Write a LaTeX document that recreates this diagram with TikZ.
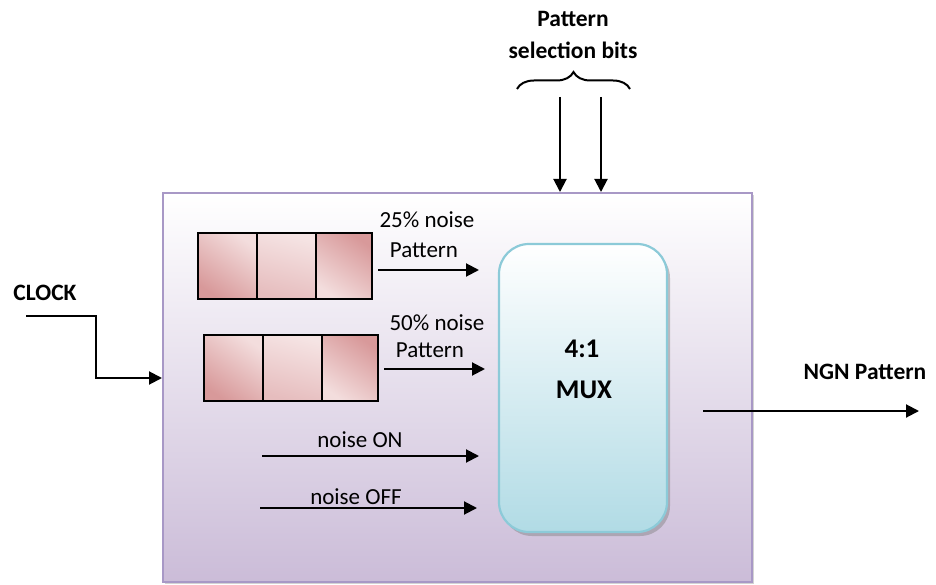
\documentclass[tikz,border=0pt]{standalone}
\usepackage{fontspec}
\setmainfont{Carlito}
\usetikzlibrary{arrows.meta,shadows,decorations.pathreplacing}

\definecolor{lavtop}{HTML}{FFFFFF}
\definecolor{lavbot}{HTML}{CBBCD8}
\definecolor{lavedge}{HTML}{A898C6}
\definecolor{muxbot}{HTML}{B1DBE5}
\definecolor{muxedge}{HTML}{8CCAD8}
\definecolor{regdark}{HTML}{D8999A}
\definecolor{reglight}{HTML}{F3DDDD}
\definecolor{regmid}{HTML}{E6BDBE}

\tikzset{
  sysbox/.style={draw=lavedge, line width=2pt, top color=lavtop, bottom color=lavbot,
    drop shadow={shadow xshift=2pt, shadow yshift=-2pt, opacity=.35}},
  muxbox/.style={draw=muxedge, line width=2.2pt, rounded corners=30pt, top color=white, bottom color=muxbot,
    drop shadow={shadow xshift=3pt, shadow yshift=-4pt, opacity=.45}},
  cell/.style={draw=black, line width=2.2pt, minimum height=66pt, inner sep=0pt},
  cellA/.style={cell, shading=axis, top color=reglight, bottom color=regdark, shading angle=-35},
  cellB/.style={cell, shading=axis, top color=reglight!80!white, bottom color=regmid, shading angle=-15},
  cellC/.style={cell, shading=axis, top color=regdark, bottom color=reglight, shading angle=-35},
  sig/.style={line width=2pt, -{Triangle[length=13pt,width=13pt]}},
  lbl/.style={font=\fontsize{23}{26}\selectfont, inner sep=0pt, anchor=base},
  blbl/.style={font=\bfseries\fontsize{23.5}{26}\selectfont, inner sep=0pt, anchor=base},
  muxtxt/.style={font=\bfseries\fontsize{27}{30}\selectfont, inner sep=0pt, anchor=base},
}

\begin{document}
\begin{tikzpicture}[x=1pt,y=-1pt]
\useasboundingbox (0,0) rectangle (936,585);

% enclosing block
\node[sysbox, minimum width=589pt, minimum height=389pt, inner sep=0pt] (sys) at (457.5,387.5) {};

% multiplexer
\node[muxbox, minimum width=168pt, minimum height=288pt, inner sep=0pt] (mux) at (583,388) {};
\node[muxtxt] (muxa) at (582,357) {4:1};
\node[muxtxt] (muxb) at (584,398) {MUX};

% 25% noise register
\node[cellA, minimum width=59pt] (r1a) at (227.5,266) {};
\node[cellB, minimum width=59pt] (r1b) at (286.5,266) {};
\node[cellC, minimum width=56pt] (r1c) at (344,266) {};
% 50% noise register
\node[cellA, minimum width=59pt] (r2a) at (233.5,368) {};
\node[cellB, minimum width=59pt] (r2b) at (292.5,368) {};
\node[cellC, minimum width=56pt] (r2c) at (350,368) {};

% register outputs into the multiplexer
\coordinate (o1s) at (378,270); \coordinate (o1e) at (479,270);
\coordinate (o2s) at (384,369); \coordinate (o2e) at (485,369);
\draw[sig] (o1s) -- (o1e);
\draw[sig] (o2s) -- (o2e);
\node[lbl] (t1a) at (427,228) {25\% noise};
\node[lbl] (t1b) at (424,257) {Pattern};
\node[lbl] (t2a) at (437,330) {50\% noise};
\node[lbl] (t2b) at (430,357) {Pattern};

% constant inputs
\coordinate (ons) at (262,456); \coordinate (one) at (479,456);
\coordinate (offs) at (260,508); \coordinate (offe) at (477,508);
\draw[sig] (ons) -- (one);
\draw[sig] (offs) -- (offe);
\node[lbl] (ton) at (360,447) {noise ON};
\node[lbl] (toff) at (356,504) {noise OFF};

% clock input
\node[blbl] (clk) at (45,300) {CLOCK};
\coordinate (c0) at (26,316);
\coordinate (c1) at (96,316);
\coordinate (c2) at (96,378);
\draw[sig] (c0) -- (c1) -- (c2) -- (sys.west |- c2);

% output
\coordinate (ng0) at (703,411); \coordinate (ng1) at (919,411);
\draw[sig] (ng0) -- (ng1);
\node[blbl] (ngn) at (865,379) {NGN Pattern};

% selection bits
\node[blbl] (sel1) at (573,27) {Pattern};
\node[blbl] (sel2) at (573,59) {selection bits};
\coordinate (b0) at (517,89); \coordinate (b1) at (630,89);
\draw[line width=2pt, decorate, decoration={brace, amplitude=17pt}] (b0) -- (b1);
\coordinate (s1) at (560,97); \coordinate (s2) at (601,97);
\draw[sig] (s1) -- (s1 |- sys.north);
\draw[sig] (s2) -- (s2 |- sys.north);
\end{tikzpicture}
\end{document}
